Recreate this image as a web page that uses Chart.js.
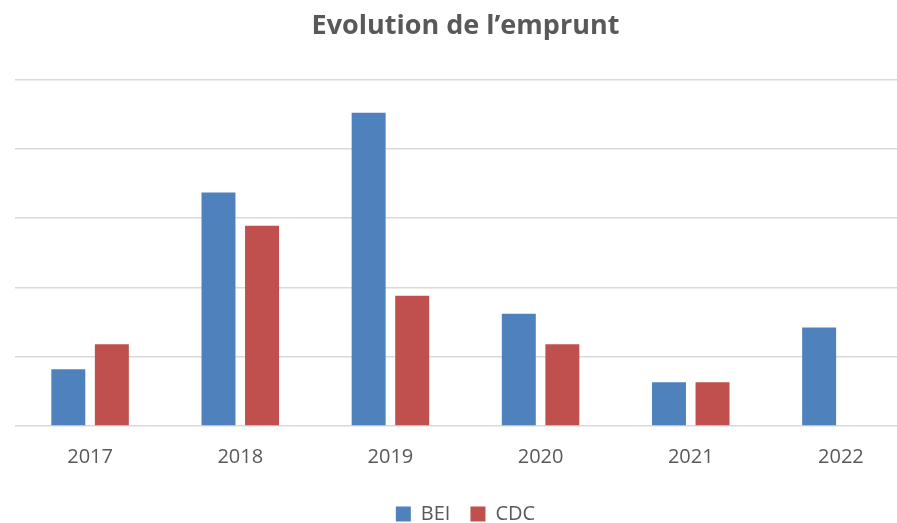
<!DOCTYPE html>
<html>
<head>
<meta charset="utf-8">
<script src="https://cdn.jsdelivr.net/npm/chart.js@4.4.0/dist/chart.umd.min.js"></script>
<style>
  html, body { margin: 0; padding: 0; background: #fff; overflow: hidden; }
  #wrap { width: 897px; height: 523px; overflow: hidden; position: relative; }
  #box { width: 931px; height: 534px; position: absolute; left: 0; top: 0; }
</style>
</head>
<body>
<div id="wrap"><div id="box"><canvas id="c" width="931" height="534"></canvas></div></div>
<script>
const categories = ["2017", "2018", "2019", "2020", "2021", "2022"];
const bei = [0.82, 3.37, 4.52, 1.62, 0.63, 1.42];
const cdc = [1.18, 2.89, 1.88, 1.18, 0.63, null];
const seriesNames = ["BEI", "CDC"];
const titleText = "Evolution de l\u2019emprunt";

new Chart(document.getElementById("c"), {
  type: "bar",
  data: {
    labels: categories,
    datasets: [
      { label: seriesNames[0], data: bei, backgroundColor: "#4F81BD", categoryPercentage: 0.58, barPercentage: 0.78 },
      { label: seriesNames[1], data: cdc, backgroundColor: "#C0504D", categoryPercentage: 0.58, barPercentage: 0.78 }
    ]
  },
  options: {
    responsive: false,
    animation: false,
    layout: { padding: { left: 15, right: 15, top: 0, bottom: 0 } },
    plugins: {
      title: {
        display: true,
        text: titleText,
        color: "#595959",
        font: { family: "Open Sans", size: 27, weight: "bold" },
        padding: { top: 10, bottom: 37 }
      },
      legend: {
        position: "bottom",
        labels: {
          color: "#595959",
          font: { family: "Open Sans", size: 20 },
          boxWidth: 15,
          boxHeight: 15,
          padding: 20
        }
      },
      tooltip: { enabled: false }
    },
    scales: {
      x: {
        grid: { display: false },
        border: { display: false },
        ticks: { color: "#595959", font: { family: "Open Sans", size: 20 }, padding: 11 },
        afterFit: (axis) => { axis.height += 4; }
      },
      y: {
        min: 0,
        max: 5,
        ticks: { display: false, stepSize: 1 },
        grid: { color: "#d9d9d9", lineWidth: 1.5, drawTicks: false },
        border: { display: false }
      }
    }
  }
});
</script>
</body>
</html>
